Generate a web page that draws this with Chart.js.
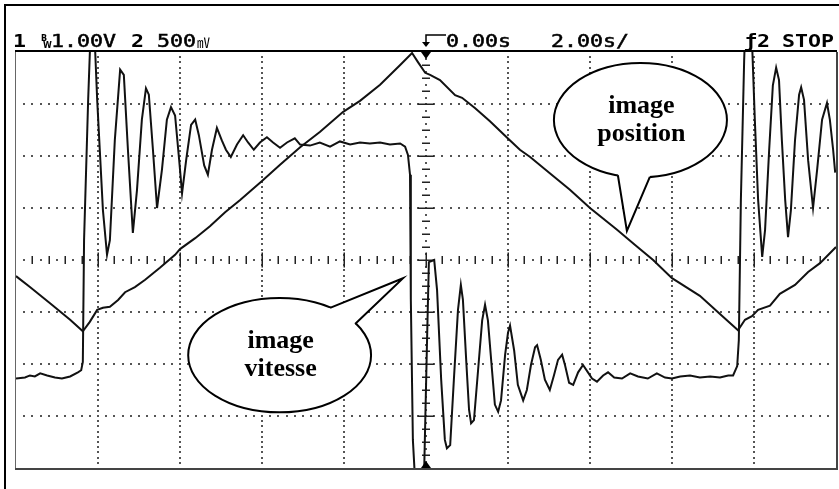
<!DOCTYPE html>
<html>
<head>
<meta charset="utf-8">
<script src="https://cdn.jsdelivr.net/npm/chart.js@4.4.1/dist/chart.umd.min.js"></script>
<style>
  html, body { margin: 0; padding: 0; background: #fff; }
  #wrap { width: 839px; height: 489px; }
</style>
</head>
<body>
<div id="wrap"><canvas id="scope" width="839" height="489"></canvas></div>
<script>
// scope settings
const timePerDiv = 2;        // s/div
const ch1VoltsPerDiv = 1;    // V/div (position)
const ch2VoltsPerDiv = 0.5;  // V/div (vitesse)

// channel 1 : position (triangle)
const posTime = [
  -10.00, -9.66, -9.17, -8.68, -8.37, -8.20, -8.02, -7.88, -7.71, -7.51,
  -7.34, -7.10, -6.85, -6.49, -6.12, -6.00, -5.63, -5.27, -4.90, -4.54,
  -4.00, -3.56, -3.07, -2.59, -2.02, -1.61, -1.12, -0.63, -0.34, -0.20,
  -0.02, 0.10, 0.34, 0.71, 0.88, 1.20, 1.56, 1.98, 2.29, 2.54,
  3.02, 3.51, 4.00, 4.66, 5.10, 5.54, 6.00, 6.68, 7.17, 7.61,
  7.78, 7.95, 8.10, 8.39, 8.63, 9.00, 9.32, 9.61, 10.00
];
const posVolts = [
  -0.31, -0.52, -0.83, -1.15, -1.37, -1.19, -0.96, -0.92, -0.90, -0.77,
  -0.62, -0.52, -0.38, -0.15, 0.10, 0.21, 0.42, 0.65, 0.92, 1.15,
  1.52, 1.83, 2.17, 2.46, 2.85, 3.06, 3.37, 3.75, 3.98, 3.81,
  3.60, 3.56, 3.46, 3.17, 3.12, 2.92, 2.67, 2.35, 2.12, 1.98,
  1.67, 1.35, 1.00, 0.58, 0.29, 0.00, -0.35, -0.69, -1.04, -1.35,
  -1.15, -1.08, -0.96, -0.88, -0.65, -0.48, -0.23, -0.06, 0.25
];

// channel 2 : vitesse (damped oscillation after each reversal)
const velTime = [
  -10.00, -9.78, -9.66, -9.54, -9.41, -9.24, -9.05, -8.88, -8.68, -8.49,
  -8.41, -8.37, -8.34, -8.24, -8.17, -8.12, -8.02, -7.88, -7.78, -7.71,
  -7.59, -7.46, -7.37, -7.27, -7.15, -7.05, -6.93, -6.83, -6.76, -6.66,
  -6.56, -6.44, -6.32, -6.22, -6.12, -6.02, -5.95, -5.85, -5.73, -5.63,
  -5.54, -5.41, -5.32, -5.22, -5.10, -4.98, -4.88, -4.76, -4.61, -4.46,
  -4.34, -4.20, -4.05, -3.88, -3.73, -3.56, -3.39, -3.20, -3.07, -2.83,
  -2.59, -2.34, -2.10, -1.85, -1.61, -1.37, -1.12, -0.88, -0.63, -0.51,
  -0.44, -0.39, -0.37, -0.32, -0.24, -0.15, -0.05, 0.02, 0.07, 0.20,
  0.27, 0.37, 0.46, 0.51, 0.59, 0.68, 0.78, 0.85, 0.90, 0.98,
  1.05, 1.10, 1.17, 1.27, 1.37, 1.44, 1.51, 1.61, 1.68, 1.76,
  1.83, 1.93, 2.00, 2.05, 2.15, 2.24, 2.37, 2.46, 2.56, 2.66,
  2.71, 2.80, 2.90, 3.02, 3.12, 3.22, 3.32, 3.39, 3.49, 3.59,
  3.71, 3.83, 3.95, 4.05, 4.17, 4.32, 4.44, 4.59, 4.78, 4.98,
  5.17, 5.41, 5.63, 5.83, 6.00, 6.20, 6.44, 6.68, 6.93, 7.17,
  7.37, 7.49, 7.59, 7.63, 7.68, 7.76, 7.80, 7.88, 7.95, 8.02,
  8.10, 8.20, 8.27, 8.37, 8.46, 8.54, 8.61, 8.68, 8.76, 8.83,
  8.90, 9.00, 9.10, 9.15, 9.22, 9.32, 9.44, 9.54, 9.66, 9.78,
  9.85, 9.93, 9.98
];
const velVolts = [
  -1.14, -1.13, -1.11, -1.12, -1.09, -1.11, -1.13, -1.14, -1.12, -1.08,
  -1.06, -0.98, 0.19, 1.54, 2.31, 2.50, 1.54, 0.48, 0.05, 0.19,
  1.15, 1.83, 1.78, 1.06, 0.26, 0.67, 1.35, 1.65, 1.59, 1.06,
  0.50, 0.87, 1.35, 1.47, 1.39, 0.96, 0.64, 0.96, 1.30, 1.35,
  1.20, 0.91, 0.82, 1.06, 1.27, 1.15, 1.06, 0.99, 1.11, 1.20,
  1.13, 1.06, 1.13, 1.18, 1.13, 1.08, 1.13, 1.17, 1.11, 1.10,
  1.13, 1.09, 1.14, 1.11, 1.13, 1.12, 1.13, 1.11, 1.12, 1.09,
  1.01, 0.82, -0.38, -1.73, -2.31, -2.50, -2.12, -0.87, -0.02, 0.00,
  -0.29, -1.15, -1.73, -1.81, -1.78, -1.15, -0.48, -0.24, -0.38, -0.96,
  -1.44, -1.57, -1.54, -1.06, -0.58, -0.43, -0.58, -1.06, -1.39, -1.46,
  -1.35, -0.91, -0.70, -0.63, -0.87, -1.20, -1.35, -1.25, -1.01, -0.84,
  -0.82, -0.96, -1.15, -1.25, -1.11, -0.96, -0.91, -1.01, -1.18, -1.20,
  -1.08, -1.01, -1.08, -1.14, -1.17, -1.11, -1.08, -1.13, -1.14, -1.09,
  -1.12, -1.14, -1.09, -1.13, -1.14, -1.12, -1.11, -1.13, -1.12, -1.13,
  -1.11, -1.11, -1.02, -0.77, 0.58, 1.92, 2.40, 2.50, 2.12, 1.35,
  0.58, 0.03, 0.29, 1.06, 1.68, 1.85, 1.73, 1.15, 0.58, 0.22,
  0.48, 1.15, 1.59, 1.66, 1.54, 0.96, 0.50, 0.87, 1.35, 1.51,
  1.35, 1.06, 0.84
];

// callout texts
const calloutPosition = ['image', 'position'];
const calloutVitesse = ['image', 'vitesse'];

const toPoints = (ts, vs) => ts.map((t, i) => ({ x: t, y: vs[i] }));

// graticule: dotted divisions, ticked centre axes
function drawGraticule(chart) {
  const { ctx, scales: { x, y1 } } = chart;
  const xMin = x.min, yMin = y1.min;
  const xDiv = timePerDiv, yDiv = ch1VoltsPerDiv;
  const dot = (px, py) => ctx.fillRect(Math.round(px) - 1, Math.round(py) - 1, 2, 2);
  ctx.save();
  ctx.fillStyle = '#555';
  for (let i = 1; i < 10; i++) {
    if (i === 5) continue;
    const px = x.getPixelForValue(xMin + i * xDiv);
    for (let k = 1; k < 80; k++) dot(px, y1.getPixelForValue(yMin + k * yDiv / 10));
  }
  for (let j = 1; j < 8; j++) {
    if (j === 4) continue;
    const py = y1.getPixelForValue(yMin + j * yDiv);
    for (let k = 1; k < 100; k++) dot(x.getPixelForValue(xMin + k * xDiv / 10), py);
  }
  // centre horizontal axis
  const cy = y1.getPixelForValue(0);
  const cx = x.getPixelForValue(0);
  ctx.strokeStyle = '#222';
  ctx.lineWidth = 1.5;
  ctx.beginPath();
  for (let k = 1; k < 100; k++) {
    const px = x.getPixelForValue(xMin + k * xDiv / 10);
    if (k % 2) { dot(px, cy); continue; }
    const h = k % 10 === 0 ? 7.5 : 4;
    ctx.moveTo(Math.round(px) + 0.25, cy - h);
    ctx.lineTo(Math.round(px) + 0.25, cy + h);
  }
  // centre vertical axis
  for (let k = 1; k < 64; k++) {
    const py = y1.getPixelForValue(yMin + k * yDiv / 8);
    if (k % 2) { dot(cx, py); continue; }
    const w = k % 8 === 0 ? 8 : 4;
    ctx.moveTo(cx - w, Math.round(py) + 0.25);
    ctx.lineTo(cx + w, Math.round(py) + 0.25);
  }
  ctx.stroke();
  ctx.restore();
}

function drawFrame(chart) {
  const { ctx, chartArea: a, width, height } = chart;
  ctx.save();
  ctx.fillStyle = '#000';
  ctx.fillRect(4, 4, width - 4, 2);
  ctx.fillRect(4, 4, 2, height - 4);
  ctx.fillRect(a.left - 1, a.top - 2, a.right - a.left + 2, 2);
  ctx.fillStyle = '#666';
  ctx.fillRect(a.left - 1, a.top, 1, a.bottom - a.top);
  ctx.fillStyle = '#444';
  ctx.fillRect(a.left - 1, a.bottom, a.right - a.left + 3, 2);
  ctx.fillRect(a.right, a.top, 2, a.bottom - a.top + 2);
  ctx.restore();
}

function drawTriggerMarks(chart) {
  const { ctx, chartArea: a, scales: { x } } = chart;
  const tx = Math.round(x.getPixelForValue(0));
  ctx.save();
  ctx.fillStyle = '#000';
  ctx.beginPath();
  ctx.moveTo(tx - 5, a.top); ctx.lineTo(tx + 5, a.top); ctx.lineTo(tx, a.top + 7);
  ctx.closePath(); ctx.fill();
  ctx.beginPath();
  ctx.moveTo(tx - 5, a.bottom); ctx.lineTo(tx + 5, a.bottom); ctx.lineTo(tx, a.bottom - 7);
  ctx.closePath(); ctx.fill();
  // trigger-position arrow in the status line
  ctx.strokeStyle = '#000';
  ctx.lineWidth = 1.5;
  ctx.beginPath();
  ctx.moveTo(tx + 20, 35); ctx.lineTo(tx, 35); ctx.lineTo(tx, 43);
  ctx.stroke();
  ctx.beginPath();
  ctx.moveTo(tx - 4, 42); ctx.lineTo(tx + 4, 42); ctx.lineTo(tx, 47);
  ctx.closePath(); ctx.fill();
  ctx.restore();
}

function headerText(ctx, text, px, bold) {
  ctx.save();
  ctx.font = (bold ? 'bold ' : '') + '17px "DejaVu Sans Mono"';
  ctx.translate(px, 47);
  ctx.scale(1.27, 1);
  ctx.fillText(text, 0, 0);
  if (!bold) {
    // scope status font has thicker strokes than a plain mono face
    ctx.lineWidth = 0.5;
    ctx.strokeStyle = '#000';
    ctx.strokeText(text, 0, 0);
  }
  ctx.restore();
}

function drawHeader(chart) {
  const { ctx } = chart;
  ctx.save();
  ctx.fillStyle = '#000';
  ctx.textBaseline = 'alphabetic';
  headerText(ctx, '1', 13, true);
  ctx.font = 'bold 8px "DejaVu Sans"';
  ctx.fillText('B', 41, 41);
  ctx.fillText('W', 43, 48);
  headerText(ctx, ch1VoltsPerDiv.toFixed(2) + 'V', 51, false);
  headerText(ctx, '2', 131, true);
  headerText(ctx, String(ch2VoltsPerDiv * 1000), 157, false);
  ctx.font = '13px "Noto Sans CJK JP"';
  ctx.fillText('㎷', 197, 47);
  headerText(ctx, '0.00s', 446, false);
  headerText(ctx, timePerDiv.toFixed(2) + 's/', 551, false);
  headerText(ctx, 'ƒ2', 744, true);
  headerText(ctx, 'STOP', 782, true);
  ctx.restore();
}

// speech bubbles, geometry in scope units (s, V of channel 1)
const bubbleShapes = [
  { lines: calloutPosition, center: [5.23, 2.69], radius: [2.11, 1.10],
    pointer: [[4.68, 1.63], [4.90, 0.56], [5.46, 1.60]] },
  { lines: calloutVitesse, center: [-3.57, -1.83], radius: [2.23, 1.10],
    pointer: [[-2.34, -0.92], [-0.56, -0.35], [-1.73, -1.23]] }
];

function drawBubble(chart, b) {
  const { ctx, scales: { x, y1 } } = chart;
  const px = t => x.getPixelForValue(t);
  const py = v => y1.getPixelForValue(v);
  const cx = px(b.center[0]), cy = py(b.center[1]);
  const rx = px(b.center[0] + b.radius[0]) - cx;
  const ry = cy - py(b.center[1] + b.radius[1]);
  const [p1, tip, p2] = b.pointer.map(([t, v]) => [px(t), py(v)]);
  ctx.save();
  ctx.lineWidth = 2;
  ctx.strokeStyle = '#000';
  ctx.fillStyle = '#fff';
  ctx.beginPath();
  ctx.ellipse(cx, cy, rx, ry, 0, 0, Math.PI * 2);
  ctx.fill();
  ctx.stroke();
  ctx.beginPath();
  ctx.moveTo(p1[0], p1[1]); ctx.lineTo(tip[0], tip[1]); ctx.lineTo(p2[0], p2[1]);
  ctx.lineTo(cx, cy); ctx.closePath();
  ctx.fill();
  ctx.beginPath();
  ctx.moveTo(p1[0], p1[1]); ctx.lineTo(tip[0], tip[1]); ctx.lineTo(p2[0], p2[1]);
  ctx.stroke();
  ctx.fillStyle = '#000';
  ctx.font = 'bold 26px "Liberation Serif"';
  ctx.textAlign = 'center';
  ctx.textBaseline = 'alphabetic';
  ctx.fillText(b.lines[0], cx + 1, cy - 7);
  ctx.fillText(b.lines[1], cx + 1, cy + 21);
  ctx.restore();
}

const scopeScreen = {
  id: 'scopeScreen',
  beforeDatasetsDraw(chart) { drawGraticule(chart); },
  afterDatasetsDraw(chart) {
    drawFrame(chart);
    drawTriggerMarks(chart);
    bubbleShapes.forEach(b => drawBubble(chart, b));
  },
  afterDraw(chart) { drawHeader(chart); }
};

new Chart(document.getElementById('scope'), {
  type: 'line',
  data: {
    datasets: [
      { label: 'position', data: toPoints(posTime, posVolts), yAxisID: 'y1' },
      { label: 'vitesse', data: toPoints(velTime, velVolts), yAxisID: 'y2' }
    ]
  },
  options: {
    responsive: false,
    devicePixelRatio: 1,
    animation: false,
    events: [],
    layout: { padding: { left: 16, top: 52, right: 3, bottom: 21 } },
    plugins: { legend: { display: false }, tooltip: { enabled: false } },
    elements: {
      point: { radius: 0 },
      line: { tension: 0, borderWidth: 2, borderColor: '#111', fill: false }
    },
    datasets: { line: { clip: 0 } },
    scales: {
      x: { type: 'linear', min: -5 * timePerDiv, max: 5 * timePerDiv, display: false },
      y1: { type: 'linear', min: -4 * ch1VoltsPerDiv, max: 4 * ch1VoltsPerDiv, display: false },
      y2: { type: 'linear', min: -4 * ch2VoltsPerDiv, max: 4 * ch2VoltsPerDiv, display: false }
    }
  },
  plugins: [scopeScreen]
});
</script>
</body>
</html>
